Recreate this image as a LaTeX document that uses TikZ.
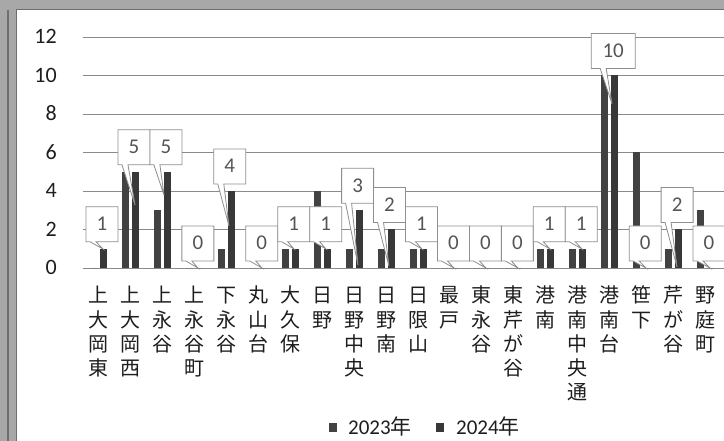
\documentclass[tikz,border=0pt]{standalone}
\usepackage{fontspec}
\setmainfont{Carlito}
\newfontfamily\cjk{Noto Sans CJK JP}
\definecolor{barA}{HTML}{424242}
\definecolor{barB}{HTML}{383838}
\definecolor{gridc}{HTML}{8A8A8A}
\definecolor{callc}{HTML}{8E8E8E}
\definecolor{ctext}{HTML}{555555}
\definecolor{txt}{HTML}{1E1E1E}
\definecolor{scan}{HTML}{A8A8A8}
\definecolor{scandark}{HTML}{6E6E6E}
\tikzset{
  gridline/.style={draw=gridc, line width=0.9pt},
  callbox/.style={draw=callc, fill=white, line width=0.8pt, line join=miter},
  calltext/.style={inner sep=0, text=ctext, font=\fontsize{21}{23}\selectfont, anchor=base},
  ylab/.style={inner sep=0, text=txt, font=\fontsize{22}{24}\selectfont, anchor=base east},
  catlab/.style={inner sep=0, text=txt, font=\cjk\fontsize{20}{24.2}\selectfont, anchor=base},
  leglab/.style={inner sep=0, text=txt, font=\fontsize{21}{24}\selectfont, anchor=base west}
}
\begin{document}
\begin{tikzpicture}[x=1pt,y=-1pt]
\useasboundingbox (0,0) rectangle (724,441);
\clip (0,0) rectangle (724,441);
\fill[white] (0,0) rectangle (724,441);
% scanned page border
\fill[scan] (0,0) rectangle (16,441);
\fill[scan] (0,0) rectangle (724,10);
\draw[scandark, line width=2pt] (8,10) -- (8,441);
\draw[scandark, line width=1pt] (16,10) -- (724,10);
\draw[scandark, line width=1pt] (16,10) -- (16,441);

% grid and y axis labels
\foreach \v in {0,2,...,12}{
  \pgfmathsetmacro\yy{268-19.25*\v}
  \draw[gridline] (83,\yy) -- (724,\yy);
  \node[ylab] (y\v) at (57,\yy+7) {\v};
}

% bars: index / 2023 / 2024
\foreach \i/\a/\b in {0/0/1,1/5/5,2/3/5,3/0/0,4/1/4,5/0/0,6/1/1,7/4/1,8/1/3,9/1/2,
  10/1/1,11/0/0,12/0/0,13/0/0,14/1/1,15/1/1,16/10/10,17/6/0,18/1/2,19/3/0}{
  \pgfmathsetmacro\c{99.5+31.95*\i}
  \pgfmathsetmacro\ya{268-19.25*\a}
  \pgfmathsetmacro\yb{268-19.25*\b}
  \fill[barA] (\c-9.5,268) rectangle (\c-2.5,\ya);
  \fill[barB] (\c+0.5,268) rectangle (\c+7.5,\yb);
}

% data callouts for 2024: index / value / tip x / tip y / width / offset
\foreach \i/\b/\tx/\ty/\w/\off in {0/1/103/249/32/0,1/5/135/205/32/0,2/5/164/195/32/0,
  3/0/198/268/32/0,4/4/229/226/32/0,5/0/262/268/32/0,6/1/294/249/32/0,7/1/326/249/32/0,
  8/3/358/265/32/0,9/2/389/266/32/0,10/1/422/249/32/0,11/0/454/268/32/0,12/0/486/268/32/0,
  13/0/518/268/32/0,14/1/550/249/32/0,15/1/582/249/32/0,16/10/612/104/44/-6,
  17/0/646/268/32/0,18/2/677/267/32/0,19/0/710/268/32/0}{
  \pgfmathsetmacro\L{86+31.95*\i+\off}
  \pgfmathsetmacro\R{\L+\w}
  \pgfmathsetmacro\B{268-19.25*\b-7}
  \pgfmathsetmacro\T{\B-35}
  \pgfmathsetmacro\pa{\L+4+(\w-32)*5/12}
  \pgfmathsetmacro\pb{\pa+6}
  \coordinate (tip\i) at (\tx,\ty);
  \draw[callbox] (\L,\T) -- (\R,\T) -- (\R,\B) -- (\pb,\B) -- (tip\i) -- (\pa,\B) -- (\L,\B) -- cycle;
  \node[calltext] (val\i) at (\L+\w/2,\B-11) {\b};
}

% category labels
\foreach \i/\lbl in {0/{上\\大\\岡\\東},1/{上\\大\\岡\\西},2/{上\\永\\谷},3/{上\\永\\谷\\町},
  4/{下\\永\\谷},5/{丸\\山\\台},6/{大\\久\\保},7/{日\\野},8/{日\\野\\中\\央},9/{日\\野\\南},
  10/{日\\限\\山},11/{最\\戸},12/{東\\永\\谷},13/{東\\芹\\が\\谷},14/{港\\南},
  15/{港\\南\\中\\央\\通},16/{港\\南\\台},17/{笹\\下},18/{芹\\が\\谷},19/{野\\庭\\町}}{
  \pgfmathsetmacro\c{98.5+31.95*\i}
  \node[catlab] (cat\i) at (\c,303) {\begin{tabular}[t]{@{}c@{}}\lbl\end{tabular}};
}

% legend
\fill[barA] (329,423) rectangle (337,432);
\node[leglab] (leg23) at (348,434) {2023{\cjk 年}};
\fill[barB] (436,423) rectangle (444,432);
\node[leglab] (leg24) at (456,434) {2024{\cjk 年}};
\end{tikzpicture}
\end{document}
